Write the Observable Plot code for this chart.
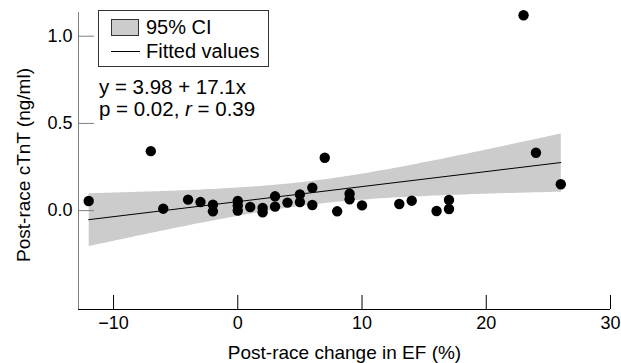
<!DOCTYPE html>
<html><head><meta charset="utf-8">
<script src="https://cdn.jsdelivr.net/npm/d3@7"></script>
<script src="https://cdn.jsdelivr.net/npm/@observablehq/plot@0.6"></script>
<style>
body{margin:0;background:#fff;}
#wrap{position:relative;width:621px;height:363px;font-family:"Liberation Sans",Arial,sans-serif;color:#000;}
#legend{position:absolute;left:98px;top:10px;width:171px;height:57px;border:1px solid #333;background:#fff;box-sizing:border-box;}
.lrow{position:absolute;left:12px;font-size:20px;line-height:20px;white-space:nowrap;}
.sw{display:inline-block;width:28px;height:17px;background:#ccc;border:1px solid #333;box-sizing:border-box;vertical-align:-2px;margin-right:7px;}
.ln{display:inline-block;width:29px;height:0;border-top:1px solid #000;vertical-align:6px;margin-right:6px;}
#eq{position:absolute;left:99px;top:76px;font-size:20.5px;line-height:22px;white-space:nowrap;}
</style></head><body><div id="wrap"></div>
<script>
const efChange = [-12, -7, -6, -4, -3, -2, -2, 0, 0, 0, 1, 2, 2, 3, 3, 4, 5, 5, 6, 6, 7, 8, 9, 9, 10, 13, 14, 16, 17, 17, 23, 24, 26];
const ctnt = [0.055, 0.341, 0.011, 0.063, 0.049, 0.034, -0.004, 0.055, 0.030, 0.000, 0.021, 0.015, -0.010, 0.082, 0.023, 0.046, 0.093, 0.049, 0.131, 0.032, 0.303, -0.004, 0.097, 0.065, 0.030, 0.038, 0.057, -0.002, 0.061, 0.009, 1.120, 0.332, 0.151];
const xTicks = [-10, 0, 10, 20, 30];
const yTicks = [0, 0.5, 1.0];
const xLabel = "Post-race change in EF (%)";
const yLabel = "Post-race cTnT (ng/ml)";
const legendLabels = ["95% CI", "Fitted values"];
const eqLine1 = "y = 3.98 + 17.1x";
const eqLine2a = "p = 0.02, ";
const eqLine2b = "r";
const eqLine2c = " = 0.39";

const data = efChange.map((x, i) => ({x, y: ctnt[i]}));
const xDomain = [-12.82, 30];
const yDomain = [-0.567, 1.136];

const chart = Plot.plot({
  width: 621, height: 363,
  marginLeft: 78, marginRight: 11, marginTop: 12, marginBottom: 54,
  x: {domain: xDomain},
  y: {domain: yDomain},
  style: {fontFamily: '"Liberation Sans", Arial, sans-serif', fontSize: "18px", color: "#000", background: "#fff"},
  marks: [
    Plot.linearRegressionY(data, {x: "x", y: "y", ci: 0.95, stroke: "#000", strokeWidth: 1, fill: "#cccccc", fillOpacity: 1}),
    Plot.dot(data, {x: "x", y: "y", r: 5.2, fill: "#000", stroke: null}),
    Plot.ruleX([xDomain[0]], {stroke: "#808080"}),
    Plot.ruleY([yDomain[0]], {stroke: "#000"}),
    Plot.axisX({ticks: xTicks, tickSize: -14, tickPadding: 21, label: null, fontSize: 18, stroke: "#000"}),
    Plot.axisY({ticks: yTicks, tickSize: -16, tickPadding: 22, label: null, fontSize: 18, stroke: "#808080", tickFormat: d3.format(".1f")}),
    Plot.text([xLabel], {text: d => d, frameAnchor: "bottom", textAnchor: "middle", lineAnchor: "middle", dy: 43, fontSize: 19}),
    Plot.text([yLabel], {text: d => d, frameAnchor: "left", textAnchor: "middle", lineAnchor: "middle", dx: -55, dy: 4, rotate: -90, fontSize: 19})
  ]
});
const wrap = document.getElementById("wrap");
wrap.appendChild(chart);

const legend = document.createElement("div");
legend.id = "legend";
legend.innerHTML = `<div class="lrow" style="top:6px"><span class="sw"></span>${legendLabels[0]}</div>
<div class="lrow" style="top:30px"><span class="ln"></span>${legendLabels[1]}</div>`;
wrap.appendChild(legend);

const eq = document.createElement("div");
eq.id = "eq";
eq.innerHTML = `${eqLine1}<br>${eqLine2a}<i>${eqLine2b}</i>${eqLine2c}`;
wrap.appendChild(eq);
</script>
</body></html>
